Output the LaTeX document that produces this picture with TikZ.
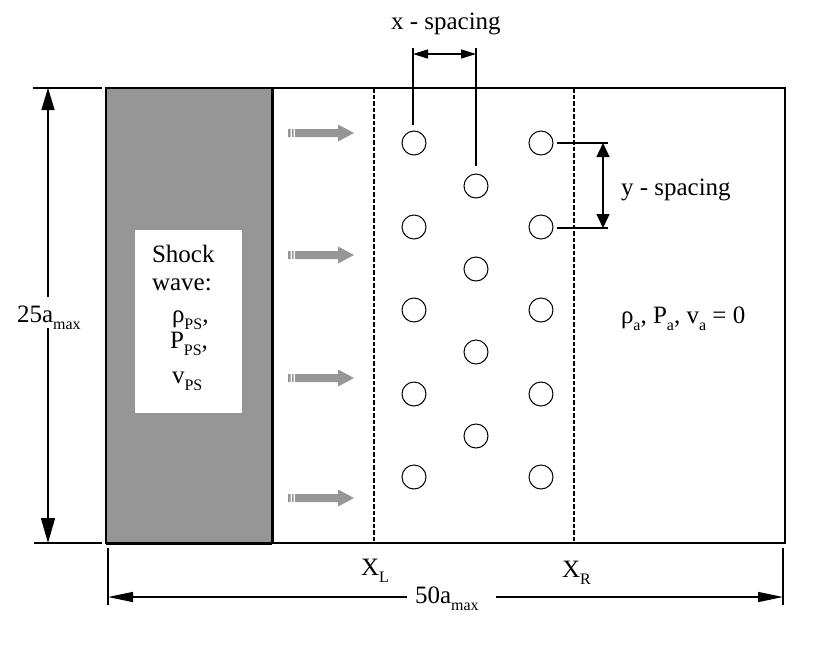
\documentclass[tikz,border=0pt]{standalone}
\usepackage{fontspec}
\setmainfont{Liberation Serif}
\usetikzlibrary{arrows.meta}
\definecolor{shock}{HTML}{969696}
\newcommand{\sbs}[1]{\raisebox{-0.28em}{\fontsize{16}{16}\selectfont #1}}
\tikzset{
  x=1pt,y=-1pt,
  lbl/.style={inner sep=0pt,outer sep=0pt,anchor=base west,font=\fontsize{25}{25}\selectfont},
  pt/.style={circle,draw=black,line width=1pt,minimum size=24pt,inner sep=0pt,fill=white},
  dimline/.style={line width=1.4pt,black},
  thinline/.style={line width=1.3pt,black},
  vhead/.style={dimline,{Triangle[length=22pt,width=13pt]}-{Triangle[length=25pt,width=14pt]}},
  hhead/.style={dimline,{Triangle[length=15pt,width=9pt]}-{Triangle[length=15pt,width=9pt]}},
  yhead/.style={dimline,{Triangle[length=14pt,width=13pt]}-{Triangle[length=14pt,width=13pt]}},
  bighead/.style={dimline,{Triangle[length=25pt,width=10pt]}-{Triangle[length=25pt,width=10pt]}},
  xmark/.style={line width=1.4pt,dash pattern=on 4.5pt off 2pt},
  flowarrow/.pic={
    \fill[shock] (0,-4) rectangle (2.5,4) (4,-4) rectangle (5.5,4) (7,-4) rectangle (9,4);
    \fill[shock] (9,-4) -- (50,-4) -- (50,-8.5) -- (66,0) -- (50,8.5) -- (50,4) -- (9,4) -- cycle;
  }
}
\begin{document}
\begin{tikzpicture}
\useasboundingbox (0,0) rectangle (830,646);
% domain
\fill[shock] (106,88) rectangle (272,543);
\draw[line width=1.5pt] (106,88) rectangle (785,543);
\draw[line width=3pt] (272,88) -- (272,543);
\draw[line width=3pt] (106,543) -- (272,543);
\fill[white] (135,230) rectangle (242,413);
% interval limits
\coordinate (xlt) at (374,88); \coordinate (xlb) at (374,543);
\coordinate (xrt) at (574,88); \coordinate (xrb) at (574,543);
\draw[xmark] (xlt) -- (xlb);
\draw[xmark] (xrt) -- (xrb);
% flow arrows
\foreach \yy in {133,255,378,498} \pic at (288,\yy) {flowarrow};
% obstacles
\node[pt] (a1) at (414,143) {};
\node[pt] (a2) at (414,227) {};
\node[pt] (a3) at (414,310) {};
\node[pt] (a4) at (414,394) {};
\node[pt] (a5) at (414,477) {};
\node[pt] (b1) at (476,186) {};
\node[pt] (b2) at (476,269) {};
\node[pt] (b3) at (476,352) {};
\node[pt] (b4) at (476,436) {};
\node[pt] (c1) at (541,143) {};
\node[pt] (c2) at (541,227) {};
\node[pt] (c3) at (541,310) {};
\node[pt] (c4) at (541,394) {};
\node[pt] (c5) at (541,477) {};
% x spacing
\coordinate (xa) at (413,48); \coordinate (xb) at (413,125);
\coordinate (xc) at (476,48); \coordinate (xd) at (476,166);
\coordinate (xe) at (413,54); \coordinate (xf) at (476,54);
\draw[thinline] (xa) -- (xb);
\draw[thinline] (xc) -- (xd);
\draw[hhead] (xe) -- (xf);
% y spacing
\coordinate (ya) at (557,143); \coordinate (yb) at (608,143);
\coordinate (yc) at (557,228); \coordinate (yd) at (608,228);
\coordinate (ye) at (603,143); \coordinate (yf) at (603,228);
\draw[thinline] (ya) -- (yb);
\draw[thinline] (yc) -- (yd);
\draw[yhead] (ye) -- (yf);
% 25 a_max
\coordinate (ht) at (33,88); \coordinate (hu) at (102,88);
\coordinate (hb) at (34,543); \coordinate (hc) at (102,543);
\coordinate (va) at (48,88); \coordinate (vb) at (48,543);
\draw[thinline] (ht) -- (hu);
\draw[thinline] (hb) -- (hc);
\draw[vhead] (va) -- (vb);
\fill[white] (17,297) rectangle (82,328);
% 50 a_max
\coordinate (wa) at (108,548); \coordinate (wb) at (108,605);
\coordinate (wc) at (783,548); \coordinate (wd) at (783,605);
\coordinate (wl) at (108,597); \coordinate (wr) at (783,597);
\draw[thinline] (wa) -- (wb);
\draw[thinline] (wc) -- (wd);
\draw[bighead] (wl) -- (wr);
\fill[white] (407,585) rectangle (496,612);
% labels
\node[lbl] (lx) at (391,29) {x - spacing};
\node[lbl] (ly) at (621,195) {y - spacing};
\node[lbl] (l25) at (17,322) {25a\sbs{max}};
\node[lbl] (l50) at (415,603) {50a\sbs{max}};
\node[lbl] (lxl) at (361,575) {X\sbs{L}};
\node[lbl] (lxr) at (562,577) {X\sbs{R}};
\node[lbl] (lamb) at (621,323) {ρ\sbs{a}, P\sbs{a}, v\sbs{a} = 0};
\node[lbl] (s1) at (152,262) {Shock};
\node[lbl] (s2) at (152,290) {wave:};
\node[lbl] (s3) at (172,322) {ρ\sbs{PS},};
\node[lbl] (s4) at (170,348) {P\sbs{PS},};
\node[lbl] (s5) at (172,383) {v\sbs{PS}};
\end{tikzpicture}
\end{document}
